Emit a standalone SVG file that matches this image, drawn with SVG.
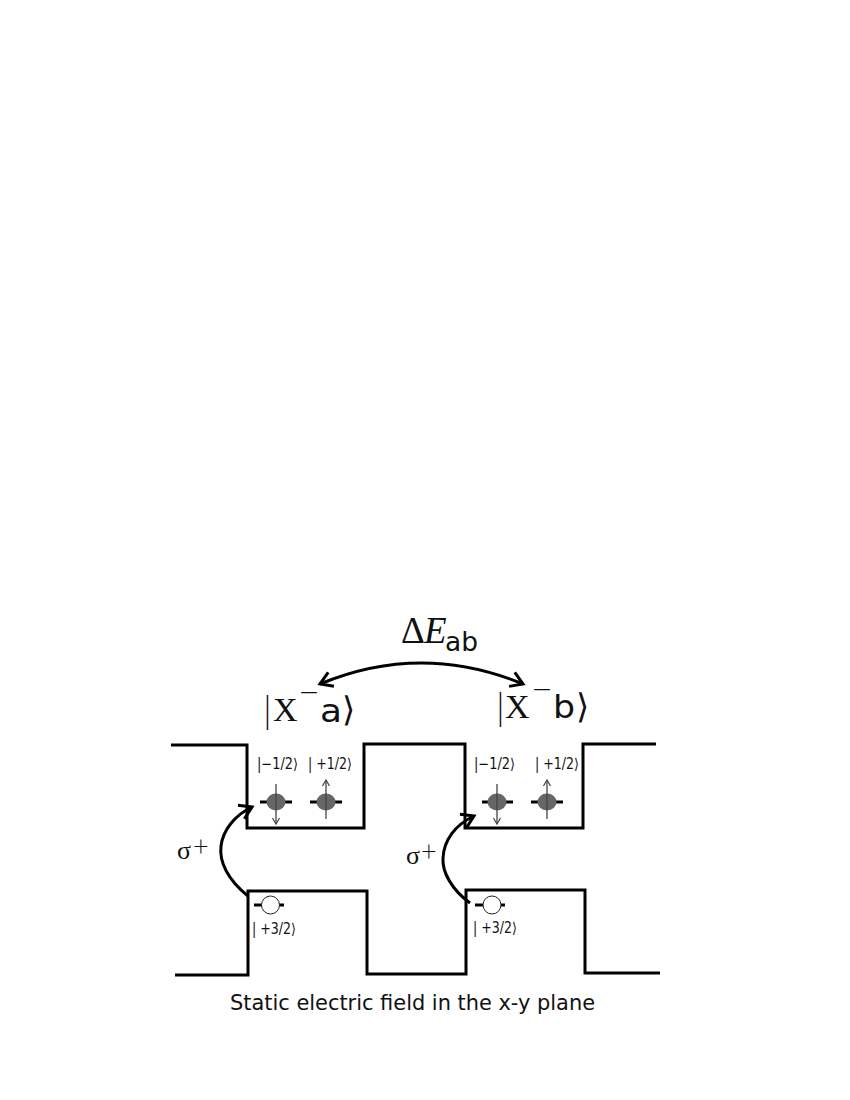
<svg xmlns="http://www.w3.org/2000/svg" width="850" height="1100" viewBox="0 0 850 1100">
<defs>
<marker id="open" markerUnits="userSpaceOnUse" markerWidth="24" markerHeight="24" refX="20" refY="12" orient="auto"><path d="M8 4.500L20 12L8 19.500" fill="none" stroke="#000" stroke-width="3"/></marker>
<marker id="openS" markerUnits="userSpaceOnUse" markerWidth="24" markerHeight="24" refX="4" refY="12" orient="auto"><path d="M16 4.500L4 12L16 19.500" fill="none" stroke="#000" stroke-width="3"/></marker>
<marker id="thin" markerUnits="userSpaceOnUse" markerWidth="12" markerHeight="12" refX="9" refY="6" orient="auto"><path d="M3 2.500L9 6L3 9.500" fill="none" stroke="#444" stroke-width="1.200"/></marker>
</defs>
<style>
.band{fill:none;stroke:#000;stroke-width:3}
.conn{fill:none;stroke:#000;stroke-width:3}
.level{stroke:#000;stroke-width:3;fill:none}
.elec{fill:#666}
.hole{fill:#fff;stroke:#222;stroke-width:1}
.spin{stroke:#444;stroke-width:1.300;fill:none;marker-end:url(#thin)}
text{fill:#111}
.sans{font-family:"Lato","Liberation Sans",sans-serif}
.wide{font-family:"DejaVu Sans",sans-serif}
.serif{font-family:"Liberation Serif",serif}
.ket{font-family:"DejaVu Sans",sans-serif;font-size:15px;fill:#111}
.big{font-family:"Liberation Serif",serif;font-size:34px}
</style>
<g id="band-top"><path class="band" d="M171 745H247V828H364V744H465V828H583V744H656"/></g>
<g id="band-bottom"><path class="band" d="M175 975H248V891H367V974H466V890H585V973H660"/></g>
<g id="connectors">
<path class="conn" d="M248 896C228 880 219 862 221 846C223 830 235 815 252 807" marker-end="url(#open)"/>
<path class="conn" d="M470 903C452 890 442 872 443 858C444 840 455 825 474 816" marker-end="url(#open)"/>
<path class="conn" d="M320 684Q421 642 523 684" marker-start="url(#openS)" marker-end="url(#open)"/>
</g>
<g id="e1"><path class="level" d="M260 802H292"/><ellipse class="elec" cx="276" cy="802" rx="9.500" ry="8.500"/><path class="spin" d="M276 784V824"/></g>
<g id="e2"><path class="level" d="M310 802H342"/><ellipse class="elec" cx="326" cy="802" rx="9.500" ry="8.500"/><path class="spin" d="M326 819V780"/></g>
<g id="e3"><path class="level" d="M482 802H513"/><ellipse class="elec" cx="497" cy="802" rx="9.500" ry="8.500"/><path class="spin" d="M497 784V824"/></g>
<g id="e4"><path class="level" d="M531 802H563"/><ellipse class="elec" cx="547" cy="802" rx="9.500" ry="8.500"/><path class="spin" d="M547 819V780"/></g>
<g id="h1"><path class="level" d="M254 905H284"/><circle class="hole" cx="270.500" cy="905" r="9"/></g>
<g id="h2"><path class="level" d="M475 905H505"/><circle class="hole" cx="492" cy="905" r="9"/></g>
<g id="labels">
<text class="ket" x="257" y="769" textLength="41" lengthAdjust="spacingAndGlyphs">|−1/2⟩</text>
<text class="ket" x="308" y="769" textLength="44" lengthAdjust="spacingAndGlyphs">| +1/2⟩</text>
<text class="ket" x="474" y="769" textLength="41" lengthAdjust="spacingAndGlyphs">|−1/2⟩</text>
<text class="ket" x="535" y="769" textLength="44" lengthAdjust="spacingAndGlyphs">| +1/2⟩</text>
<text class="ket" x="252" y="934" textLength="44" lengthAdjust="spacingAndGlyphs">| +3/2⟩</text>
<text class="ket" x="473" y="933" textLength="44" lengthAdjust="spacingAndGlyphs">| +3/2⟩</text>
<text class="serif" x="177" y="859" font-size="26">σ</text>
<text class="sans" x="193" y="856" font-size="27" font-weight="300">+</text>
<text class="serif" x="406" y="864" font-size="26">σ</text>
<text class="sans" x="421" y="861" font-size="27" font-weight="300">+</text>
<text class="serif" x="401" y="643" font-size="37">Δ</text>
<text class="serif" x="424" y="643" font-size="37" font-style="italic">E</text>
<text class="wide" x="445" y="651" font-size="26" textLength="33" lengthAdjust="spacingAndGlyphs">ab</text>
<text class="sans" x="263" y="723" font-size="37" font-weight="300">|</text>
<text class="big" x="273" y="721">X</text>
<text class="sans" x="298" y="705" font-size="38" font-weight="300">−</text>
<text class="wide" x="320" y="722" font-size="32" textLength="22" lengthAdjust="spacingAndGlyphs">a</text>
<text class="big" x="342" y="721">⟩</text>
<text class="sans" x="496" y="720" font-size="37" font-weight="300">|</text>
<text class="big" x="505" y="718">X</text>
<text class="sans" x="531" y="702" font-size="38" font-weight="300">−</text>
<text class="wide" x="553" y="718" font-size="32" textLength="22" lengthAdjust="spacingAndGlyphs">b</text>
<text class="big" x="576" y="718">⟩</text>
<text class="wide" x="230" y="1010" font-size="22" textLength="365" lengthAdjust="spacingAndGlyphs">Static electric field in the x-y plane</text>
</g>
</svg>
